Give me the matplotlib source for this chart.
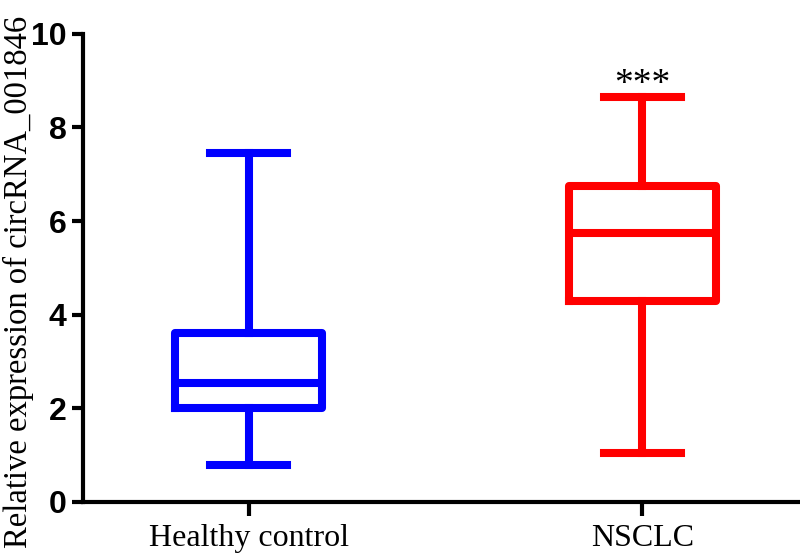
import matplotlib
matplotlib.use('Agg')
import matplotlib.pyplot as plt
import matplotlib.transforms as mtransforms

# box statistics
groups = ['Healthy control', 'NSCLC']
whislo = [0.80, 1.05]
q1 = [2.00, 4.30]
med = [2.55, 5.75]
q3 = [3.60, 6.75]
whishi = [7.45, 8.65]
colors = ['#0000ff', '#ff0000']
yticks = [0, 2, 4, 6, 8, 10]

stats = []
for i, g in enumerate(groups):
    stats.append({'label': g, 'whislo': whislo[i], 'q1': q1[i], 'med': med[i],
                  'q3': q3[i], 'whishi': whishi[i], 'fliers': []})

fig = plt.figure(figsize=(8, 5.55), dpi=100)
ax = fig.add_axes([0.104, 0.0955, 0.896, 0.8435])

lw = 5.8
for i, s in enumerate(stats):
    c = colors[i]
    ax.bxp([s], positions=[i + 1], widths=0.375, showfliers=False,
           boxprops=dict(color=c, linewidth=lw),
           medianprops=dict(color=c, linewidth=lw),
           whiskerprops=dict(color=c, linewidth=lw),
           capprops=dict(color=c, linewidth=lw),
           capwidths=0.195)

ax.set_xlim(0.58, 2.40)
ax.set_ylim(0, 10)
ax.set_yticks(yticks)
ax.set_yticklabels([str(t) for t in yticks], fontfamily='Liberation Sans',
                   fontweight='bold', fontsize=23)
ax.set_xticks([1, 2])
ax.set_xticklabels(groups, fontfamily='Liberation Serif', fontsize=23)
ax.set_ylabel('Relative expression of circRNA_001846', fontfamily='Liberation Serif',
              fontsize=23.5)
ax.yaxis.set_label_coords(-0.069, 0.47)

# x labels sit a little left of their ticks in the original
shift = mtransforms.ScaledTranslation(-9 / 100, 0, fig.dpi_scale_trans)
for lab in ax.get_xticklabels():
    lab.set_transform(lab.get_transform() + shift)

for side in ['top', 'right']:
    ax.spines[side].set_visible(False)
ax.spines['left'].set_linewidth(3)
ax.spines['bottom'].set_linewidth(3)
ax.tick_params(axis='y', length=8, width=3, pad=4)
ax.tick_params(axis='x', length=10, width=3, pad=6)

ax.text(2, whishi[1] - 0.1, '***', ha='center', va='bottom',
        fontfamily='Liberation Serif', fontsize=27)

fig.savefig('out.png', dpi=100)
